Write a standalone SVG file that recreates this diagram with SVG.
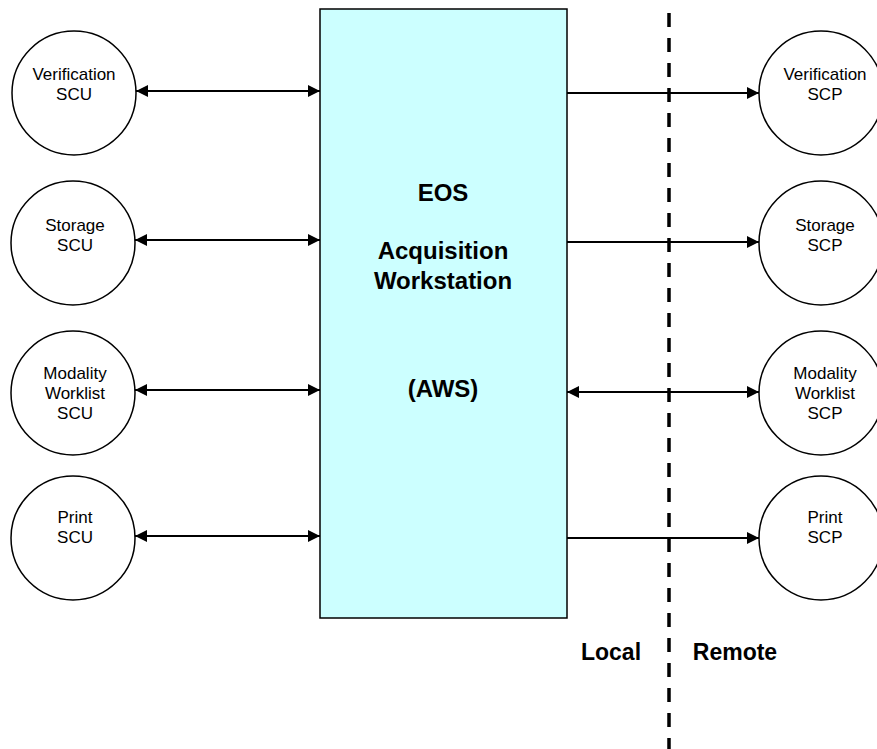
<svg xmlns="http://www.w3.org/2000/svg" width="877" height="749" viewBox="0 0 877 749">
<defs>
<marker id="ah" viewBox="0 0 12 12" refX="12" refY="6" markerWidth="12" markerHeight="12" markerUnits="userSpaceOnUse" orient="auto-start-reverse">
<path d="M0,0 L12,6 L0,12 Z" fill="#000"/>
</marker>
</defs>
<style>
.c{fill:#fff;stroke:#000;stroke-width:1.5}
.t{font-family:"Liberation Sans",Arial,sans-serif;font-size:17px;fill:#000;text-anchor:middle}
.b{font-family:"Liberation Sans",Arial,sans-serif;font-size:24px;font-weight:bold;fill:#000;text-anchor:middle}
.l{stroke:#000;stroke-width:2;fill:none}
.one{marker-end:url(#ah)}
.two{marker-start:url(#ah);marker-end:url(#ah)}
</style>
<rect width="877" height="749" fill="#fff"/>
<line x1="669" y1="13" x2="669" y2="749" stroke="#000" stroke-width="3.5" stroke-dasharray="14 11"/>
<g id="aws">
<rect x="320" y="9" width="247" height="609" fill="#CCFFFF" stroke="#000" stroke-width="1.5"/>
<text class="b" x="443" y="201">EOS</text>
<text class="b" x="443" y="259">Acquisition</text>
<text class="b" x="443" y="289">Workstation</text>
<text class="b" x="443" y="397">(AWS)</text>
</g>
<g id="verification-scu"><circle class="c" cx="74" cy="93" r="62"/><text class="t" x="74" y="80">Verification</text><text class="t" x="74" y="100">SCU</text></g>
<g id="storage-scu"><circle class="c" cx="73" cy="243" r="62"/><text class="t" x="75" y="231">Storage</text><text class="t" x="75" y="251">SCU</text></g>
<g id="modality-scu"><circle class="c" cx="73" cy="393" r="62"/><text class="t" x="75" y="379">Modality</text><text class="t" x="75" y="399">Worklist</text><text class="t" x="75" y="419">SCU</text></g>
<g id="print-scu"><circle class="c" cx="73" cy="538" r="62"/><text class="t" x="75" y="523">Print</text><text class="t" x="75" y="543">SCU</text></g>
<g id="verification-scp"><circle class="c" cx="821" cy="93" r="62"/><text class="t" x="825" y="80">Verification</text><text class="t" x="825" y="100">SCP</text></g>
<g id="storage-scp"><circle class="c" cx="821" cy="243" r="62"/><text class="t" x="825" y="231">Storage</text><text class="t" x="825" y="251">SCP</text></g>
<g id="modality-scp"><circle class="c" cx="821" cy="393" r="62"/><text class="t" x="825" y="379">Modality</text><text class="t" x="825" y="399">Worklist</text><text class="t" x="825" y="419">SCP</text></g>
<g id="print-scp"><circle class="c" cx="821" cy="538" r="62"/><text class="t" x="825" y="523">Print</text><text class="t" x="825" y="543">SCP</text></g>
<g id="connectors">
<line class="l two" x1="136" y1="91" x2="320" y2="91"/>
<line class="l two" x1="135" y1="240" x2="320" y2="240"/>
<line class="l two" x1="135" y1="390" x2="320" y2="390"/>
<line class="l two" x1="135" y1="536" x2="320" y2="536"/>
<line class="l one" x1="567" y1="93" x2="759" y2="93"/>
<line class="l one" x1="567" y1="242" x2="759" y2="242"/>
<line class="l two" x1="567" y1="392" x2="759" y2="392"/>
<line class="l one" x1="567" y1="538" x2="759" y2="538"/>
</g>
<text class="b" x="611" y="660" style="font-size:23px">Local</text>
<text class="b" x="735" y="660" style="font-size:23px">Remote</text>
</svg>
